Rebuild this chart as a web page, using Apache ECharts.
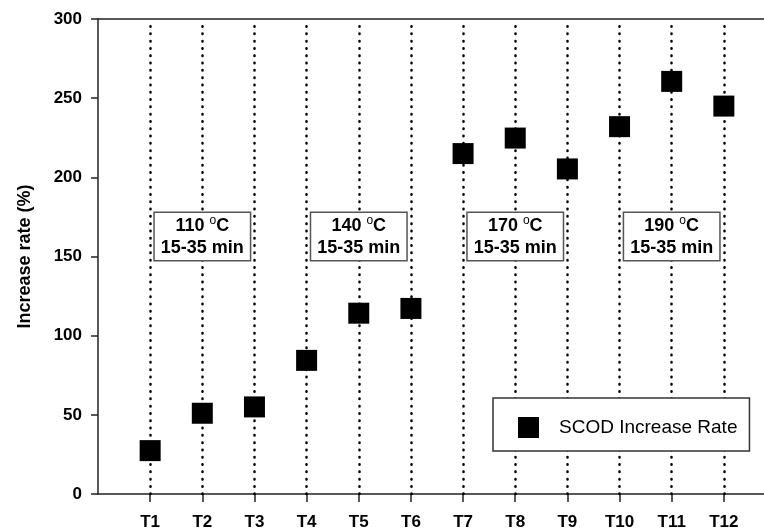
<!DOCTYPE html>
<html>
<head>
<meta charset="utf-8">
<script src="https://cdn.jsdelivr.net/npm/echarts@6/dist/echarts.min.js"></script>
<style>html,body{margin:0;padding:0;background:#fff}#c{width:764px;height:529px}</style>
</head>
<body>
<div id="c"></div>
<script>
var categories = ['T1','T2','T3','T4','T5','T6','T7','T8','T9','T10','T11','T12'];
var rates = [27.4, 51, 55, 84.4, 114.2, 117.2, 215, 224.8, 205.3, 232, 260.6, 245];
var yTicks = [0, 50, 100, 150, 200, 250, 300];
var annotCategory = ['T2','T5','T8','T11'];
var annotLevel = [162.7, 162.7, 162.7, 162.7];
var annotTemp = ['110','140','170','190'];
var annotTime = ['15-35 min','15-35 min','15-35 min','15-35 min'];
var seriesName = 'SCOD Increase Rate';

var FONT = "'Liberation Sans', Arial, Helvetica, sans-serif";
var positions = categories.map(function (c, i) { return i + 1; });

var chart = echarts.init(document.getElementById('c'), null, {renderer: 'canvas'});
chart.setOption({
  animation: false,
  backgroundColor: '#fff',
  grid: {left: 98, top: 19, bottom: 35, right: -12, containLabel: false, outerBoundsMode: 'none'},
  legend: {
    data: [seriesName],
    left: 493, top: 398, z: 6,
    padding: [19, 12, 13, 25],
    backgroundColor: '#fff',
    borderColor: '#333', borderWidth: 1.5,
    icon: 'rect', itemWidth: 21, itemHeight: 21,
    itemStyle: {opacity: 1},
    textStyle: {fontFamily: FONT, fontSize: 19, color: '#000', padding: [0, 0, 0, 15]}
  },
  xAxis: [{
    type: 'value', min: 0, max: 13,
    axisLine: {show: true, lineStyle: {color: '#222', width: 1.5}},
    axisTick: {show: true, customValues: positions, length: 8, lineStyle: {color: '#222', width: 1.5}},
    axisLabel: {show: true, customValues: positions, margin: 20,
      formatter: function (v) { return categories[Math.round(v) - 1] || ''; },
      fontFamily: FONT, fontSize: 17, fontWeight: 'bold', color: '#000'},
    splitLine: {show: false}
  }, {
    type: 'value', min: 0, max: 13, position: 'top',
    axisLine: {show: true, onZero: false, lineStyle: {color: '#222', width: 1.5}},
    axisTick: {show: false}, axisLabel: {show: false}, splitLine: {show: false}
  }],
  yAxis: {
    type: 'value', min: 0, max: 300, interval: 50,
    name: 'Increase rate (%)', nameLocation: 'middle', nameRotate: 90, nameGap: 64,
    nameTextStyle: {fontFamily: FONT, fontSize: 18, fontWeight: 'bold', color: '#000'},
    axisLine: {show: true, lineStyle: {color: '#222', width: 1.5}},
    axisTick: {show: true, length: 7, lineStyle: {color: '#222', width: 1.5}},
    axisLabel: {margin: 16, fontFamily: FONT, fontSize: 17, fontWeight: 'bold', color: '#000',
      customValues: yTicks},
    splitLine: {show: false}
  },
  series: [{
    name: 'guides', type: 'scatter', data: [], z: 1, silent: true,
    markLine: {
      z: 1,
      silent: true, symbol: 'none', animation: false,
      label: {show: false},
      lineStyle: {color: '#000', width: 2.5, type: [0.5, 6.8], cap: 'round', opacity: 1},
      data: positions.map(function (p) { return [{coord: [p, 0]}, {coord: [p, 297]}]; })
    }
  }, {
    name: seriesName, type: 'scatter', z: 3,
    symbol: 'rect', symbolSize: 21,
    itemStyle: {color: '#000', opacity: 1},
    emphasis: {disabled: true},
    data: categories.map(function (c, i) { return [i + 1, rates[i]]; })
  }, {
    name: 'notes', type: 'scatter', z: 4, silent: true,
    symbolSize: 1, itemStyle: {color: 'rgba(0,0,0,0)', opacity: 1},
    emphasis: {disabled: true},
    data: annotCategory.map(function (c, i) { return [categories.indexOf(c) + 1, annotLevel[i]]; }),
    label: {
      show: true, position: 'inside', opacity: 1,
      backgroundColor: '#fff', borderColor: '#555', borderWidth: 1.5,
      padding: [2, 6, 1, 6], align: 'center',
      formatter: function (p) {
        var i = p.dataIndex;
        return '{a|' + annotTemp[i] + ' }{s|o}{a|C}\n{a|' + annotTime[i] + '}';
      },
      rich: {
        a: {fontFamily: FONT, fontSize: 18, fontWeight: 'bold', color: '#000', lineHeight: 22, align: 'center'},
        s: {fontFamily: FONT, fontSize: 12, color: '#000', lineHeight: 4, verticalAlign: 'top', align: 'center'}
      }
    }
  }]
});
</script>
</body>
</html>
